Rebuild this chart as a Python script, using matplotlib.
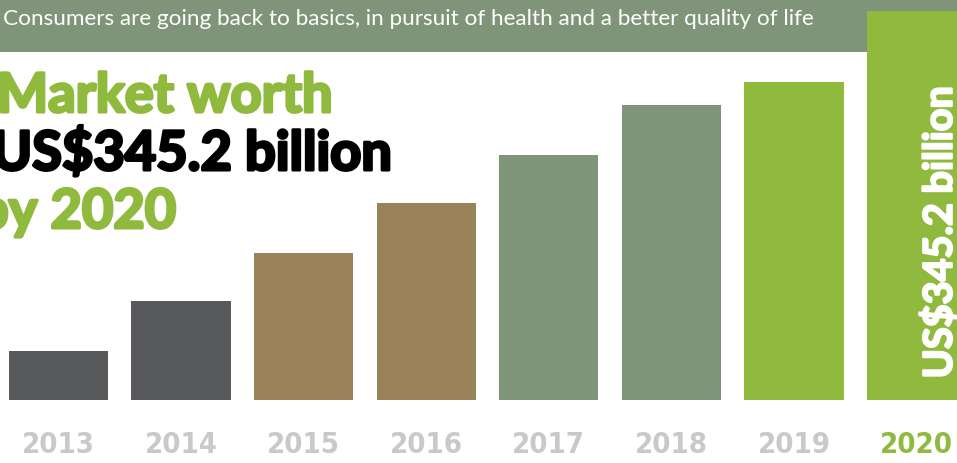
import matplotlib.pyplot as plt
import matplotlib.patheffects as pe
from matplotlib.patches import Rectangle

years = ['2013', '2014', '2015', '2016', '2017', '2018', '2019', '2020']
market = [43.5, 87.8, 130.4, 174.8, 217.4, 261.8, 282.2, 345.2]  # US$ billion
bar_colors = ['#58595b', '#58595b', '#9a8259', '#9a8259',
              '#7f9478', '#7f9478', '#8fba3e', '#8fba3e']
label_colors = ['#c9c9c9'] * 7 + ['#8fba3e']

subtitle = 'Consumers are going back to basics, in pursuit of health and a better quality of life'
headline = ['Market worth', 'US$345.2 billion', 'by 2020']
bar_note = 'US$345.2 billion'

W, H = 957, 463
fig = plt.figure(figsize=(W / 100, H / 100), dpi=100)
ax = fig.add_axes([0, 0, 1, 1])
ax.axis('off')

# banner strip at the top (drawn under the bars)
ax.add_patch(Rectangle((0, 1 - 52 / H), 1, 52 / H, transform=ax.transAxes,
                       color='#7f9478', zorder=0, lw=0))

x = list(range(len(years)))
ax.bar(x, market, width=0.81, color=bar_colors, zorder=2)

# 122.57 px between bars, first bar centre at 58.5 px, baseline 400 px from top
step = 122.57
ax.set_xlim(-58.5 / step, (W - 58.5) / step)
per_px = market[-1] / 389
ax.set_ylim(-(H - 400) * per_px, 400 * per_px)

trans = ax.get_xaxis_transform()
for i, (yr, c) in enumerate(zip(years, label_colors)):
    ax.text(i, 1 - 445 / H, yr, transform=trans, ha='center', va='center',
            fontsize=21, color=c, family='DejaVu Sans', fontweight='bold',
            fontstretch='condensed')


def fat(col, lw):
    # thicken Lato Bold towards the black weight of the original
    return [pe.withStroke(linewidth=lw, foreground=col)]


ax.text(7.19, (400 - 232) * per_px, bar_note, rotation=90, ha='center', va='center',
        color='white', zorder=3, fontsize=28.5, family='Lato', fontweight='bold',
        path_effects=fat('white', 1.5))

fig.text(3 / W, 1 - 25 / H, subtitle, va='baseline', ha='left',
         color='white', fontsize=16.2, family='Lato')

for txt, xp, yp, col in zip(headline, [-3, -8, -22], [112, 170, 228],
                            ['#8fba3e', 'black', '#8fba3e']):
    fig.text(xp / W, 1 - yp / H, txt, va='baseline', ha='left', color=col,
             fontsize=39, family='Lato', fontweight='bold', path_effects=fat(col, 2.2))

fig.savefig('out.png', dpi=100)
